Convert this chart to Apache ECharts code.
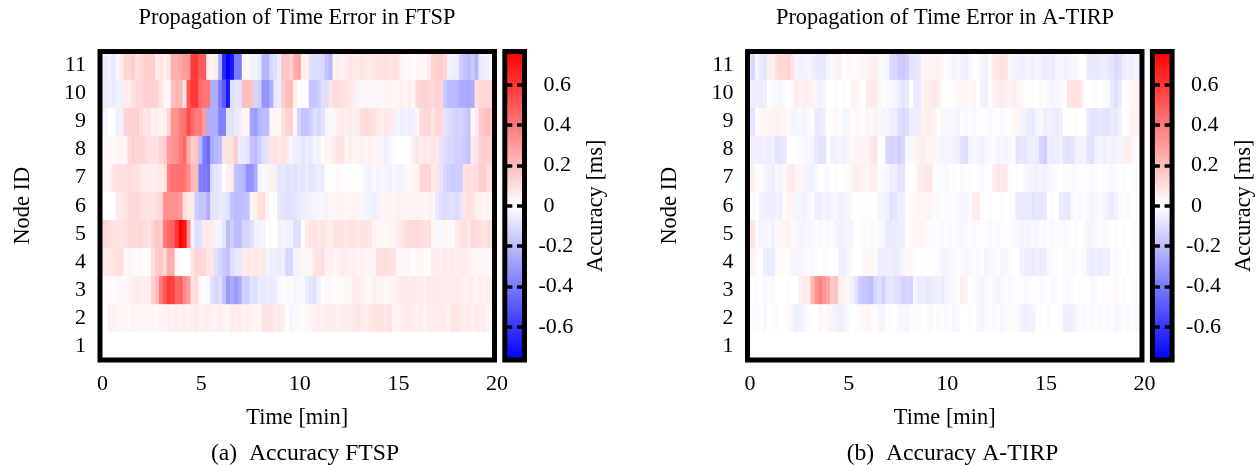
<!DOCTYPE html>
<html><head><meta charset="utf-8">
<style>html,body{margin:0;padding:0;background:#fff}#c{width:1258px;height:465px}</style>
<script src="https://cdn.jsdelivr.net/npm/echarts@6/dist/echarts.min.js"></script>
</head><body><div id="c"></div>
<script>
const nodeIds = ['1','2','3','4','5','6','7','8','9','10','11'];
const colorbarTicksPos = [0, 0.2, 0.4, 0.6];
const colorbarTicksNeg = [-0.6, -0.4, -0.2];

const ftsp1 = new Array(100).fill(0);
const ftsp2 = [0,0,5,4,3,2,3,2,4,3, 2,3,2,3,2,4,4,5,4,5, 4,5,4,5,6,4,5,5,4,4, 5,4,3,6,5,6,4,5,4,3, 3,8,8,9,6,7,5,1,-3,-2, -1,1,2,3,4,5,4,5,6,5, 4,5,6,5,7,8,6,5,7,8, 8,9,7,9,4,3,5,6,6,5, 4,5,4,6,5,5,6,6,4,8, 8,7,5,6,4,7,5,6,3,3];
const ftsp3 = [1,2,2,1,2,2,2,4,5,6, 5,5,6,14,20,40,50,60,58,45, 48,35,30,8,12,3,1,-2,-10,-12, -10,-18,-30,-25,-30,-25,-14,-15,-8,-10, -6,-7,-5,-6,-5,-2,-1,-2,-1,-3, -2,-2,-6,-8,-9,-4,1,2,2,-1, 2,2,3,3,6,6,5,3,2,5, 3,4,2,3,3,5,6,7,6,7, 5,6,5,7,6,7,6,5,6,5, 6,5,4,5,5,3,5,4,5,4];
const ftsp4 = [5,7,6,8,10,10,2,3,2,1, 2,1,2,10,15,17,12,25,25,2, 1,0,1,8,13,13,12,8,8,-10, -13,-16,-18,-10,-7,-7,6,7,6,7, 6,7,-3,-5,-5,-6,-5,-12,-12,-4, -3,3,2,3,8,9,10,4,5,3, 4,6,5,4,5,3,5,3,4,4, 10,9,10,9,9,3,2,2,3,1, 2,3,1,1,5,6,5,7,5,6, 5,6,6,5,3,3,2,2,2,2];
const ftsp5 = [10,12,10,9,9,8,9,11,12,11, 12,10,9,13,17,16,40,45,48,60, 76,70,34,-3,-10,-9,7,7,6,-3, -3,-8,-20,-15,-20,-20,-13,-13,-10,-4, -4,-3,0,-1,0,-4,-3,-4,-4,-9, -10,1,6,8,9,7,8,6,5,8, 9,8,7,9,8,7,9,9,8,4, 3,3,2,4,3,5,7,10,11,11, 12,11,9,10,3,-2,-2,3,2,2, 6,8,10,7,12,11,9,8,10,8];
const ftsp6 = [0,0,0,0,6,7,8,11,12,12, 10,9,9,8,10,12,32,33,34,33, 32,10,7,6,-15,-18,-18,-25,-8,-8, -6,-7,-9,-18,-20,-20,-19,-18,4,5, 10,10,3,0,0,-7,-8,-9,-9,-8, -6,-5,-5,-4,-3,-3,-2,-3,3,3, 4,3,2,3,4,3,3,-3,-4,-5, -4,3,4,4,3,5,4,3,4,3, 4,4,3,4,4,-6,-10,-11,-10,-9, -11,-8,8,10,9,5,4,3,4,3];
const ftsp7 = [2,3,3,8,9,10,10,11,10,9, 7,6,6,5,6,7,8,38,42,43, 43,42,35,20,20,-38,-40,-42,-10,-8, -6,0,5,6,-18,-20,-22,-33,-33,-25, -3,-2,3,4,5,-8,-7,-9,-8,-9, -7,-8,-6,-8,-7,-5,-6,1,1,1, 2,1,1,1,0,1,1,-3,-4,-2, -3,-2,-3,-4,-2,-3,-4,3,2,3, 4,12,13,13,7,8,-8,-12,-14,-16, -14,-15,9,10,9,10,15,15,10,10];
const ftsp8 = [1,2,3,2,3,4,3,12,14,13, 13,12,9,10,9,13,14,30,32,34, 40,45,25,16,18,-22,-40,-45,-25,-22, -20,8,9,9,15,-6,-6,-8,-18,-20, -15,-10,-8,8,9,7,8,7,-3,-5, -5,-8,-5,-7,-3,-4,1,3,3,6, 9,8,3,5,3,4,5,3,4,3, 4,-3,-5,-3,1,0,0,0,1,5, 8,6,7,6,8,7,-8,-10,-12,-12, -14,-14,-16,-18,6,8,14,15,14,14];
const ftsp9 = [-3,-3,0,-1,-5,-4,13,14,14,14, 11,8,9,4,5,4,5,12,33,33, 40,42,55,45,40,40,30,-25,-25,-25, -38,-38,-8,-9,-6,-5,3,3,-28,-30, -22,-20,-20,3,3,3,10,14,14,3, -13,-18,-18,-14,-10,-12,-9,-3,2,-2, 5,6,5,7,5,6,10,11,10,9, 7,5,7,6,6,-3,-5,-4,-5,-4, 3,11,13,12,8,12,12,-8,-10,-12, -14,-13,-15,-18,3,6,16,18,20,17];
const ftsp10 = [-5,-6,-5,-6,-4,-5,6,5,10,12, 12,14,14,14,13,8,3,2,20,22, 22,8,50,60,60,45,42,42,-25,-25, -40,-50,-70,-10,-8,-8,20,20,18,-13, -14,-32,-32,-25,-7,-6,15,20,20,5, -1,-1,-1,-17,-17,-15,-10,-10,8,11, 11,9,9,7,5,4,-2,3,-2,2, -2,2,3,4,3,3,5,3,5,2, 12,13,14,13,12,14,13,-16,-20,-20, -21,-25,-25,-26,-25,10,12,12,13,12];
const ftsp11 = [-4,-6,-4,-7,-3,6,13,13,15,9, 12,15,15,15,6,8,5,8,25,25, 26,30,30,60,60,50,50,4,4,6, -25,-65,-76,-70,-40,-40,4,3,-4,-4, -6,-22,-22,-12,-10,-6,18,18,14,25, 27,5,5,-10,-10,-10,-12,-18,-22,4, 5,4,6,8,7,6,8,7,6,8, 9,8,10,8,9,9,3,2,2,1, 2,3,2,6,14,14,15,13,-4,-5, -5,-14,-18,-20,-16,-22,-6,-5,-4,-2];

const tirp1 = new Array(100).fill(0);
const tirp2 = [0,-1,-1,0,-2,0,1,-1,0,1, 2,-3,-5,-4,-3,-1,0,0,3,1, 3,-3,-4,-5,-4,-2,0,1,2,2, 3,2,1,-3,-3,1,-1,0,-2,-2, -3,-1,2,-1,0,1,2,0,-2,-1, -2,-1,-3,-2,0,0,-1,0,-2,-3, -2,-1,-2,-1,-3,-2,-1,-1,2,-4, -5,-4,-4,0,1,0,-1,0,1,-1, -5,-5,-4,-2,-1,-2,-1,-2,-1,-2, -1,-2,-1,-3,-2,-1,-2,-1,-2,-2];
const tirp3 = [0,0,-1,0,-2,-1,-2,0,0,0, -1,0,0,5,7,6,22,33,38,32, 28,15,18,5,4,3,-4,-8,-15,-17, -18,-20,-12,-10,-14,-8,-7,-9,-10,-13, -12,-13,-3,-6,-5,-7,-6,-5,-4,-6, -3,-2,-2,-1,5,4,0,-1,-2,-3, -2,-1,-2,-3,-2,-1,-2,-1,0,-1, -2,-1,0,-1,-2,-1,0,-2,-1,0, -1,-2,-1,0,-1,-1,0,-2,-1,0, -1,1,1,2,0,-1,0,-1,-1,0];
const tirp4 = [4,4,-1,0,-5,-6,-6,2,2,1, -1,-3,-3,-3,-2,-1,-2,-1,0,-1, -1,0,0,-4,-5,-3,-1,0,0,2, 3,3,2,-5,-5,-5,-5,-6,-5,-3, 2,2,1,0,1,0,1,-1,-1,-3, -3,-2,-2,-1,-2,-3,-2,-1,-2,-1, -3,-2,-2,-1,-3,-3,-1,0,0,-4, -5,-5,-6,-5,-6,-5,-2,-1,-1,0, -1,-1,-2,-1,0,-2,-5,-6,-5,-6, -4,-5,-1,-2,-1,0,-1,0,-1,-1];
const tirp5 = [7,8,-2,-3,-3,-2,-4,2,3,3, 4,2,-2,-3,-3,-2,-2,-1,-2,-1, -2,-1,-3,-4,-4,-3,-3,0,1,2, 1,2,1,-2,-2,-6,-7,-6,-5,-5, 1,2,3,3,3,1,-1,-1,-1,-2, -1,-2,-1,-2,-3,-2,-1,-2,-1,0, -1,-2,-1,-2,-1,0,-1,-2,-2,-3, -2,-3,-2,-3,-1,-2,-1,-2,-1,-1, -2,-1,0,-1,0,-1,-3,-3,-2,-1, -2,-1,0,-1,0,1,0,-1,-1,-1];
const tirp6 = [1,-1,0,-4,-5,-5,-5,-4,-5,1, 3,3,-3,-3,-4,-2,-1,-5,-5,-3, -4,-3,-2,-4,-4,-3,-1,0,0,1, -1,1,0,-3,-3,-4,-9,-8,-5,-5, 1,2,2,3,2,3,3,1,2,0, -1,-1,-1,-2,-3,-3,-1,5,6,1, 0,-1,0,0,-1,0,-1,-1,-6,-7, -7,-6,-8,-7,-8,-7,0,-1,0,-6, -7,-7,-2,-1,-2,-1,-2,-3,-2,-1, -3,-5,-6,-4,-1,1,2,0,0,0];
const tirp7 = [5,5,0,1,-3,-4,-5,-2,-3,3, 6,7,3,3,-3,-4,-4,-2,0,-1, -2,0,-1,0,-1,-1,4,5,5,4, 3,5,5,-1,-2,-2,-5,-5,-8,-8, -1,0,1,5,6,7,7,1,-1,-1, -2,0,-1,0,-2,-1,-1,0,-1,-2, -1,0,5,8,6,7,-1,0,-1,0, -2,-3,-3,-4,-3,-4,-3,-2,-1,0, -1,-1,-2,-1,0,-1,-1,-2,-1,0, -1,-1,-2,-1,0,1,0,1,-1,0];
const tirp8 = [-3,-4,-4,-5,-4,-5,-4,-8,-8,-7, 0,0,1,-1,-2,-2,-3,-7,-8,-8, -1,-4,-4,-3,-4,-3,2,3,3,3, 4,7,8,1,-1,-12,-13,-12,-15,-12, -2,-2,3,4,5,3,4,3,-2,-3, -3,-3,-4,-5,-9,-10,-3,-2,-3,-4, -3,-2,-1,-3,-2,-3,-2,-1,-8,-7, -8,-5,-5,-6,-13,-15,-5,-6,-5,-4, -8,-9,-8,-4,-4,-3,-8,-9,-4,-3, -5,-3,-4,-3,-3,4,5,4,-1,-1];
const tirp9 = [-8,-8,1,3,3,3,4,4,3,3, -1,-3,-3,-2,-3,-2,-1,-6,-6,-5, 0,-1,3,1,-3,-3,1,2,2,1, 3,2,4,-2,-3,-3,-5,-5,-10,-11, -10,-5,-5,-5,4,5,5,3,0,3, -2,-2,-2,-3,-1,-2,-1,-2,-1,0, -1,-2,-1,0,-2,-1,-1,2,3,-3, -4,-6,-6,-3,-2,-5,-4,-5,-6,-4, 0,0,0,1,0,0,-7,-8,-8,-7, -8,-8,-6,-7,-4,0,-1,4,4,4];
const tirp10 = [-5,-5,-5,-6,-5,0,-2,-2,-3,-1, 0,3,6,4,5,5,4,-3,-4,-3, 0,0,1,0,1,0,3,4,2,0, 6,7,6,3,1,-2,-2,-3,-5,-8, -7,1,-6,-6,4,5,6,7,5,1, 0,0,1,3,3,2,2,3,1,-4, -5,1,4,5,6,5,4,5,4,2, 1,1,1,0,2,-1,-2,-3,-2,-2, 1,8,9,8,8,1,0,0,-1,0, 1,-2,-7,-10,-6,0,1,3,4,4];
const tirp11 = [-10,-12,-3,-7,-8,5,5,10,12,12, 13,8,-3,-4,-4,-3,-4,-6,-7,-7, -3,-2,4,4,0,2,-1,1,2,3, 4,5,5,-2,-2,-3,-11,-12,-16,-16, -14,-8,-8,-7,3,4,3,4,4,3, -1,-2,-3,-2,-4,-5,-2,0,-1,-3, -4,-1,6,7,9,8,-2,-3,-4,-5, -4,-3,-5,-3,-4,-6,-5,-6,-3,-3, -4,-3,-2,-2,0,-1,-6,-7,-7,-6, -5,-7,-8,-11,-9,-5,-4,-5,-3,-5];

const ftspRows = [ftsp1,ftsp2,ftsp3,ftsp4,ftsp5,ftsp6,ftsp7,ftsp8,ftsp9,ftsp10,ftsp11];
const tirpRows = [tirp1,tirp2,tirp3,tirp4,tirp5,tirp6,tirp7,tirp8,tirp9,tirp10,tirp11];
const bins = ftsp2.map((_, i) => (i * 0.2).toFixed(1));
const toCells = rows => rows.flatMap((row, r) => row.map((v, c) => [c, r, v / 100]));

const SERIF = '"Liberation Serif", serif';
const LIMIT = 0.765;
const RAMP = ['#0000ff', '#ffffff', '#ff0000'];
const TOP = 51.5, H = 308.5, W = 394.5, CBW = 19.7;
const plots = [
  { left: 100, cb: 504.8, title: 'Propagation of Time Error in FTSP', tx: 297, caption: '(a)  Accuracy FTSP', cx: 305, cells: toCells(ftspRows) },
  { left: 747.5, cb: 1152.4, title: 'Propagation of Time Error in A-TIRP', tx: 945, caption: '(b)  Accuracy A-TIRP', cx: 952.5, cells: toCells(tirpRows) }
];
const frame = { show: true, borderColor: '#000', borderWidth: 5, backgroundColor: 'transparent', z: 10, containLabel: false };
const txt = { color: '#000', fontFamily: SERIF, fontSize: 22 };
const big = { color: '#000', fontFamily: SERIF, fontSize: 22.4, fontWeight: 'normal' };

const option = { animation: false, backgroundColor: '#fff', title: [], grid: [], xAxis: [], yAxis: [], series: [], visualMap: [] };
plots.forEach((p, k) => {
  const g0 = k * 2, g1 = k * 2 + 1;
  option.title.push(
    { text: p.title, left: p.tx, top: 7.5, padding: 0, textAlign: 'center', textStyle: big },
    { text: p.caption, left: p.cx, top: 442, padding: 0, textAlign: 'center', textStyle: { ...big, fontSize: 23.6 } }
  );
  option.grid.push(
    { ...frame, left: p.left, top: TOP, width: W, height: H },
    { ...frame, left: p.cb, top: TOP, width: CBW, height: H }
  );
  // heat cells use category bins; the visible time scale is a value axis on the same grid
  const xBase = option.xAxis.length;
  option.xAxis.push(
    { type: 'category', gridIndex: g0, data: bins, show: false },
    { type: 'value', gridIndex: g0, min: 0, max: 20, interval: 5, position: 'bottom', z: 12,
      name: 'Time [min]', nameLocation: 'middle', nameGap: 47, nameTextStyle: big,
      axisLine: { show: false }, axisTick: { show: false }, splitLine: { show: false },
      axisLabel: { ...txt, margin: 13, padding: [0, 0, 0, 5] } },
    { type: 'category', gridIndex: g1, data: [''], show: false }
  );
  const yBase = option.yAxis.length;
  const barAxis = { type: 'value', gridIndex: g1, min: -LIMIT, max: LIMIT, z: 12, splitLine: { show: false }, axisLine: { show: false } };
  const ticks = { show: true, inside: true, length: 7.5, lineStyle: { color: '#000', width: 3.5 },
                  customValues: [...colorbarTicksNeg, ...colorbarTicksPos] };
  option.yAxis.push(
    { type: 'category', gridIndex: g0, data: nodeIds, z: 12,
      name: 'Node ID', nameLocation: 'middle', nameGap: 66, nameRotate: 90, nameTextStyle: big,
      axisLine: { show: false }, axisTick: { show: false }, splitLine: { show: false },
      axisLabel: { ...txt, margin: 14, interval: 0, padding: [2, 0, 0, 0] } },
    { ...barAxis, position: 'left', axisTick: ticks, axisLabel: { show: false } },
    { ...barAxis, position: 'right', axisTick: ticks,
      name: 'Accuracy [ms]', nameLocation: 'middle', nameGap: 61, nameRotate: 90, nameTextStyle: big,
      axisLabel: { ...txt, margin: 19, align: 'left', padding: [2, 0, 0, 0], customValues: colorbarTicksPos, formatter: v => String(v) } },
    { ...barAxis, position: 'right', axisTick: { show: false },
      axisLabel: { ...txt, margin: 14, align: 'left', padding: [2, 0, 0, 0], customValues: colorbarTicksNeg, formatter: v => String(v) } }
  );
  option.series.push({
    type: 'heatmap', xAxisIndex: xBase, yAxisIndex: yBase, data: p.cells, silent: true,
    itemStyle: { borderWidth: 0 }, emphasis: { disabled: true }, progressive: 0
  });
  option.visualMap.push({
    type: 'continuous', seriesIndex: k, min: -LIMIT, max: LIMIT, calculable: false, hoverLink: false,
    left: p.cb, top: TOP, itemWidth: CBW, itemHeight: H, padding: 0, text: null, showLabel: false,
    orient: 'vertical', inRange: { color: RAMP }, z: 4
  });
});
const chart = echarts.init(document.getElementById('c'), null, { renderer: 'canvas' });
chart.setOption(option);
</script></body></html>
